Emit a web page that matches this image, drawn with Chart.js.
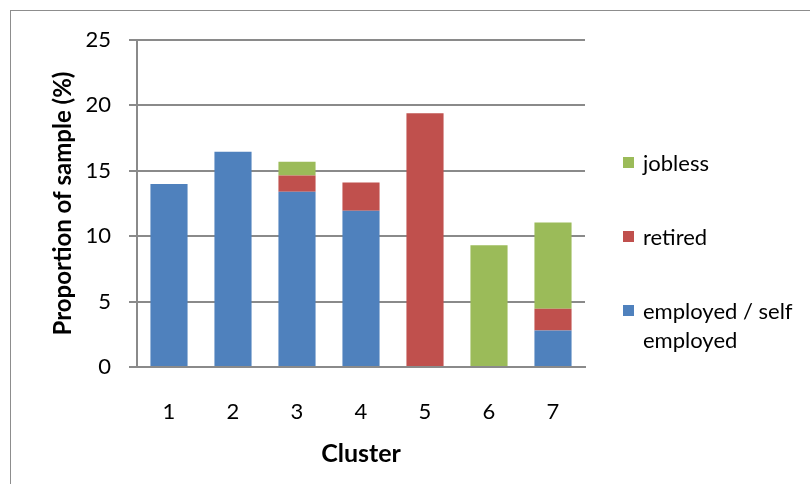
<!DOCTYPE html>
<html>
<head>
<meta charset="utf-8">
<script src="https://cdn.jsdelivr.net/npm/chart.js@4/dist/chart.umd.min.js"></script>
<style>
  html, body { margin: 0; padding: 0; background: #fff; overflow: hidden; }
  #wrap { position: relative; width: 810px; height: 484px; }
  #marco { position: absolute; left: 10px; top: 10px; width: 900px; height: 600px; border: 1px solid #8d8d8d; box-sizing: border-box; }
  #grafico { position: absolute; left: 0; top: 0; }
  #leyenda { position: absolute; left: 0; top: 0; font-family: Lato, sans-serif; font-size: 22px; color: #000; }
  .fila { position: absolute; left: 643px; line-height: 29px; white-space: nowrap; }
  .caja { position: absolute; left: -20px; top: 9px; width: 11px; height: 11px; }
</style>
</head>
<body>
<div id="wrap">
  <div id="marco"></div>
  <canvas id="grafico" width="810" height="484"></canvas>
  <div id="leyenda"></div>
</div>
<script>
// datos
const clusters = ['1', '2', '3', '4', '5', '6', '7'];
const empleados = [14.0, 16.45, 13.4, 11.95, 0, 0, 2.8];
const jubilados = [0, 0, 1.25, 2.15, 19.4, 0, 1.65];
const parados = [0, 0, 1.05, 0, 0, 9.3, 6.6];
const ticksY = [0, 5, 10, 15, 20, 25];

const nombres = ['employed / self employed', 'retired', 'jobless'];
const colores = ['#4f81bd', '#c0504d', '#9bbb59'];

document.addEventListener("DOMContentLoaded", () => {
    const ctx = document.getElementById('grafico').getContext('2d');
    const gris = '#8a8a8a';

    new Chart(ctx, {
        type: 'bar',
        data: {
            labels: clusters,
            datasets: [
                { label: nombres[0], data: empleados, backgroundColor: colores[0] },
                { label: nombres[1], data: jubilados, backgroundColor: colores[1] },
                { label: nombres[2], data: parados, backgroundColor: colores[2] }
            ]
        },
        options: {
            responsive: false,
            animation: false,
            layout: { padding: { left: 0, top: 40, right: 225, bottom: 0 } },
            datasets: { bar: { categoryPercentage: 1, barPercentage: 0.58, borderWidth: 0 } },
            plugins: { legend: { display: false }, tooltip: { enabled: false } },
            scales: {
                x: {
                    stacked: true,
                    grid: { display: false, drawTicks: false },
                    border: { display: true, color: gris, width: 2 },
                    ticks: { color: '#000', padding: 32, font: { family: 'Lato', size: 22 } },
                    title: { display: true, text: 'Cluster', color: '#000', padding: { top: 0, bottom: 15 },
                             font: { family: 'Lato', size: 25, weight: 'bold' } },
                    afterFit: (s) => { s.height = 117; }
                },
                y: {
                    stacked: true,
                    min: 0, max: 25,
                    afterBuildTicks: (s) => { s.ticks = ticksY.map(v => ({ value: v })); },
                    grid: { color: gris, lineWidth: 2, tickLength: 8 },
                    border: { display: true, color: gris, width: 2 },
                    ticks: { color: '#000', padding: 18, font: { family: 'Lato', size: 22 } },
                    title: { display: true, text: 'Proportion of sample (%)', color: '#000', padding: { top: 49, bottom: 0 },
                             font: { family: 'Lato', size: 24, weight: 'bold' } },
                    afterFit: (s) => { s.width = 137; }
                }
            }
        }
    });

    // leyenda a mano, de arriba abajo: jobless, retired, employed
    const leyenda = document.getElementById('leyenda');
    const filas = [
        { i: 2, top: 148 },
        { i: 1, top: 222 },
        { i: 0, top: 296 }
    ];
    filas.forEach(f => {
        const div = document.createElement('div');
        div.className = 'fila';
        div.style.top = f.top + 'px';
        const partes = nombres[f.i] === 'employed / self employed' ? 'employed / self<br>employed' : nombres[f.i];
        div.innerHTML = '<span class="caja" style="background:' + colores[f.i] + '"></span>' + partes;
        leyenda.appendChild(div);
    });
});
</script>
</body>
</html>
